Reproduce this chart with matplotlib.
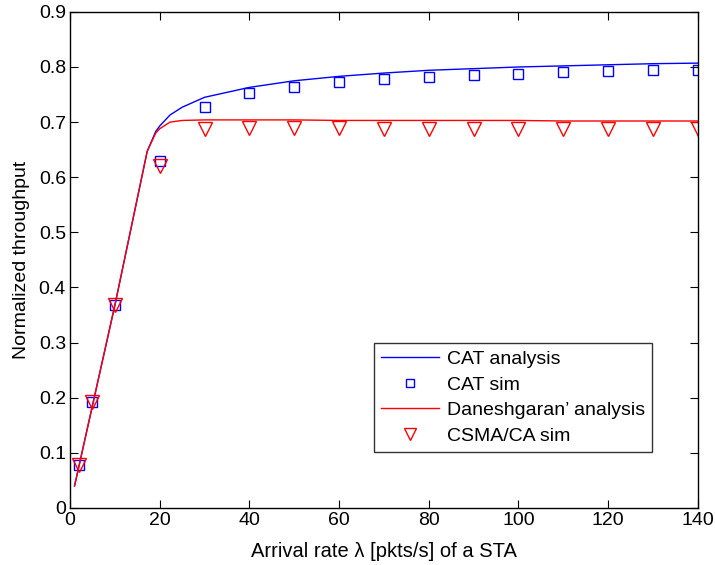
import matplotlib.pyplot as plt

plt.rcParams['font.family'] = ['Liberation Sans', 'DejaVu Sans']

# analysis curves
ana_x = [1, 5, 10, 17.2, 19.1, 20, 22.3, 25, 30, 40, 50, 60, 70, 80, 90, 100, 110, 120, 130, 140]
cat_ana = [0.040, 0.186, 0.368, 0.647, 0.683, 0.693, 0.713, 0.727, 0.745, 0.763, 0.775, 0.783,
           0.789, 0.794, 0.797, 0.800, 0.802, 0.804, 0.806, 0.807]
dan_ana = [0.040, 0.186, 0.368, 0.647, 0.680, 0.688, 0.700, 0.703, 0.704, 0.704, 0.704, 0.703,
           0.703, 0.703, 0.703, 0.703, 0.702, 0.702, 0.702, 0.702]

# simulation points
sim_x = [2, 5, 10, 20, 30, 40, 50, 60, 70, 80, 90, 100, 110, 120, 130, 140]
cat_sim = [0.078, 0.193, 0.368, 0.630, 0.727, 0.753, 0.764, 0.772, 0.778, 0.782, 0.785,
           0.788, 0.791, 0.792, 0.794, 0.795]
csma_sim = [0.078, 0.193, 0.368, 0.620, 0.688, 0.690, 0.689, 0.689, 0.688, 0.688, 0.688,
            0.688, 0.688, 0.688, 0.688, 0.688]

fig = plt.figure(figsize=(7.15, 5.65), dpi=100)
ax = fig.add_axes([0.098, 0.101, 0.878, 0.878])

ax.plot(ana_x, cat_ana, color='blue', lw=1, label='CAT analysis')
ax.plot(sim_x, cat_sim, 's', mfc='none', mec='blue', ms=7.5, mew=1, label='CAT sim')
ax.plot(ana_x, dan_ana, color='red', lw=1, label='Daneshgaran\u2019 analysis')
ax.plot(sim_x, csma_sim, 'v', mfc='none', mec='red', ms=10, mew=1, label='CSMA/CA sim')

ax.set_xlim(0, 140)
ax.set_ylim(0, 0.9)
ax.set_xticks(range(0, 141, 20))
ax.set_yticks([i / 10 for i in range(10)])
ax.set_yticklabels(['0'] + ['%.1f' % (i / 10) for i in range(1, 10)])
ax.tick_params(direction='in', top=True, right=True, labelsize=14, length=6, pad=3)
for sp in ax.spines.values():
    sp.set_linewidth(1)
ax.set_xlabel('Arrival rate \u03bb [pkts/s] of a STA', fontsize=14.5, labelpad=9)
ax.set_ylabel('Normalized throughput', fontsize=14, labelpad=6)

leg = ax.legend(loc='lower right', bbox_to_anchor=(0.927, 0.113), fontsize=14,
                fancybox=False, edgecolor='black', handlelength=3.0,
                borderpad=0.35, labelspacing=0.42, handletextpad=0.4,
                borderaxespad=0, markerscale=0.8)
leg.get_frame().set_linewidth(1)

plt.savefig('out.png')
